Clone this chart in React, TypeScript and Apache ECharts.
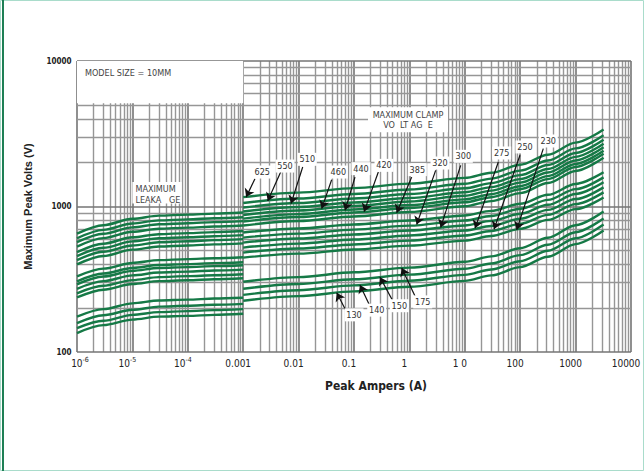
import React, { useEffect, useRef } from "react";
import * as echarts from "echarts";

// ---------- data ----------
const leakCurrents = [1e-6, 3e-6, 1e-5, 3e-5, 1e-4, 3e-4, 1e-3];
const clampCurrents = [0.001, 0.01, 0.1, 1, 10, 30, 100, 316, 1000, 3200];

// leakage region, one row per curve (highest first), volts
const leakVolts = [
  [651, 744, 823, 865, 879, 894, 909],
  [605, 691, 764, 803, 816, 830, 844],
  [569, 650, 719, 755, 768, 781, 794],
  [530, 606, 670, 704, 716, 728, 740],
  [486, 555, 614, 645, 656, 667, 678],
  [456, 520, 576, 605, 615, 625, 636],
  [428, 489, 540, 568, 577, 587, 597],
  [400, 457, 505, 531, 540, 549, 558],
  [331, 374, 409, 428, 435, 441, 448],
  [306, 346, 378, 396, 402, 408, 414],
  [292, 330, 361, 378, 383, 389, 395],
  [272, 307, 336, 352, 357, 363, 368],
  [253, 285, 312, 327, 332, 337, 342],
  [237, 268, 293, 307, 311, 316, 321],
  [175, 197, 216, 226, 229, 233, 236],
  [158, 179, 195, 205, 208, 211, 214],
  [146, 164, 180, 188, 191, 194, 197],
  [135, 153, 167, 175, 177, 180, 183],
];

// clamp region, one row per curve (highest first), volts
const clampVolts = [
  [1159, 1245, 1337, 1436, 1572, 1705, 1934, 2269, 2749, 3387],
  [1057, 1135, 1220, 1310, 1433, 1555, 1764, 2070, 2507, 3089],
  [984, 1057, 1136, 1219, 1334, 1447, 1642, 1927, 2334, 2875],
  [924, 992, 1066, 1145, 1253, 1359, 1542, 1809, 2192, 2700],
  [874, 939, 1009, 1083, 1185, 1286, 1459, 1711, 2073, 2554],
  [826, 887, 953, 1023, 1120, 1215, 1379, 1617, 1959, 2414],
  [788, 846, 909, 976, 1069, 1159, 1315, 1543, 1869, 2303],
  [740, 795, 854, 917, 1003, 1089, 1235, 1449, 1755, 2162],
  [662, 706, 752, 801, 868, 933, 1044, 1203, 1427, 1717],
  [611, 651, 694, 739, 801, 861, 964, 1110, 1317, 1585],
  [565, 602, 642, 684, 741, 796, 891, 1027, 1218, 1466],
  [522, 556, 593, 632, 684, 735, 823, 948, 1125, 1354],
  [482, 514, 548, 583, 632, 679, 760, 876, 1039, 1250],
  [445, 474, 506, 538, 583, 627, 702, 809, 959, 1154],
  [304, 327, 353, 380, 417, 454, 517, 610, 744, 924],
  [272, 293, 316, 340, 373, 406, 463, 546, 666, 827],
  [247, 266, 287, 309, 339, 369, 420, 496, 605, 751],
  [225, 242, 261, 281, 308, 336, 383, 452, 551, 684],
];

// arrow annotations
const arrowLabels = ["625", "550", "510", "460", "440", "420", "385", "320", "300", "275", "250", "230", "175", "150", "140", "130"];
const arrowFromA = [0.00163, 0.00475, 0.01186, 0.0395, 0.1042, 0.275, 1.1, 2.98, 8.43, 40.3, 99, 261, 1.26, 0.5, 0.189, 0.0718];
const arrowFromV = [1553, 1725, 1867, 1528, 1592, 1725, 1592, 1771, 1918, 2022, 2248, 2500, 243, 225, 211, 192];
const arrowToA = [0.00113, 0.00277, 0.0073, 0.0261, 0.0689, 0.152, 0.59, 1.355, 3.67, 15.3, 33.7, 86.5, 0.726, 0.294, 0.128, 0.0488];
const arrowToV = [1160, 1091, 1047, 967, 942, 922, 905, 752, 718, 708, 697, 692, 378, 327, 289, 255];
const labelA = [0.00221, 0.00569, 0.01436, 0.0521, 0.1336, 0.348, 1.39, 3.57, 9.4, 46.3, 122, 321, 1.74, 0.658, 0.257, 0.1];
const labelV = [1725, 1897, 2110, 1725, 1820, 1918, 1791, 1990, 2213, 2332, 2565, 2820, 221, 208, 194, 180];

// axes
const xTickValues = [1e-6, 1e-5, 1e-4, 1e-3, 0.01, 0.1, 1, 10, 100, 1000, 10000];
const xTickLabels = ["10^-6", "10^-5", "10^-4", "0.001", "0.01", "0.1", "1", "1 0", "100", "1000", "10000"];
const yTickValues = [100, 1000, 10000];
const yTickLabels = ["100", "1000", "10000"];
const minorSteps = [2, 3, 4, 5, 6, 7, 8, 9];

const X_MIN = 1e-6, X_MAX = 1e4, Y_MIN = 100, Y_MAX = 10000;
const FONT = "'Liberation Sans Narrow', 'DejaVu Sans Condensed', 'Liberation Sans', sans-serif";
const GREEN = "#157946";

function buildOption(): any {
  const minorStyle = { color: "#969696", width: 1.4, type: "solid" };
  const majorStyle = { color: "#747474", width: 1.6, type: "solid" };
  const gridLines: any[] = [];
  xTickValues.forEach((d, i) => {
    gridLines.push([{ coord: [d, Y_MIN], lineStyle: majorStyle }, { coord: [d, Y_MAX] }]);
    if (i < xTickValues.length - 1) {
      minorSteps.forEach((m) =>
        gridLines.push([{ coord: [d * m, Y_MIN], lineStyle: minorStyle }, { coord: [d * m, Y_MAX] }])
      );
    }
  });
  yTickValues.forEach((d, i) => {
    gridLines.push([{ coord: [X_MIN, d], lineStyle: majorStyle }, { coord: [X_MAX, d] }]);
    if (i < yTickValues.length - 1) {
      minorSteps.forEach((m) =>
        gridLines.push([{ coord: [X_MIN, d * m], lineStyle: minorStyle }, { coord: [X_MAX, d * m] }])
      );
    }
  });

  const tickPoints: any[] = [];
  xTickValues.forEach((v, i) => {
    const t = xTickLabels[i];
    const txt = t.indexOf("^") >= 0 ? `{b|${t.split("^")[0]}}{e|${t.split("^")[1]}}` : `{b|${t}}`;
    tickPoints.push({
      coord: [v, Y_MIN],
      label: {
        show: true,
        position: "bottom",
        distance: 4,
        offset: [i === 0 ? 3 : -5, 0],
        formatter: () => txt,
        rich: {
          b: { fontSize: 10, lineHeight: 14, fontFamily: FONT, color: "#222" },
          e: { fontSize: 7, lineHeight: 8, verticalAlign: "top", fontFamily: FONT, color: "#222" },
        },
      },
    });
  });
  yTickValues.forEach((v, i) => {
    tickPoints.push({
      coord: [X_MIN, v],
      label: {
        show: true,
        position: "left",
        distance: 5,
        formatter: () => yTickLabels[i],
        fontSize: 8,
        fontWeight: "bold",
        fontFamily: FONT,
        color: "#222",
      },
    });
  });

  const series: any[] = [];
  series.push({
    type: "line",
    data: [[X_MIN, Y_MIN]],
    showSymbol: false,
    silent: true,
    z: 1,
    lineStyle: { opacity: 0 },
    markLine: { silent: true, z: 1, symbol: "none", animation: false, label: { show: false }, data: gridLines },
    markPoint: {
      silent: true,
      z: 1,
      animation: false,
      symbol: "circle",
      symbolSize: 1,
      itemStyle: { color: "rgba(0,0,0,0)" },
      data: tickPoints,
    },
  });

  const boxLabel = { show: true, color: "#444", fontSize: 9, fontFamily: FONT };
  series.push({
    type: "line",
    data: [[X_MIN, Y_MIN]],
    showSymbol: false,
    silent: true,
    z: 2,
    lineStyle: { opacity: 0 },
    markArea: {
      silent: true,
      z: 2,
      animation: false,
      itemStyle: { color: "#ffffff" },
      data: [
        [
          { coord: [1e-6, 10000], label: { ...boxLabel, position: [8, 7], formatter: () => "MODEL SIZE = 10MM" } },
          { coord: [0.001, 5130] },
        ],
        [
          { coord: [1e-5, 1471], label: { ...boxLabel, position: [3, 1], lineHeight: 11, formatter: () => "MAXIMUM\nLEAKA   GE" } },
          { coord: [7.77e-5, 1049] },
        ],
        [
          { coord: [0.179, 4819], label: { ...boxLabel, position: "inside", lineHeight: 10, align: "center", formatter: () => "MAXIMUM CLAMP\nVO  LT AG  E" } },
          { coord: [4.97, 3237] },
        ],
      ],
    },
  });

  const curveStyle = { color: GREEN, width: 2.4 };
  leakVolts.forEach((vals) => {
    series.push({
      type: "line",
      data: leakCurrents.map((c, j) => [c, vals[j]]),
      smooth: 0.3,
      smoothMonotone: "x",
      symbol: "none",
      silent: true,
      z: 3,
      lineStyle: curveStyle,
    });
  });
  clampVolts.forEach((vals) => {
    series.push({
      type: "line",
      data: clampCurrents.map((c, j) => [c, vals[j]]),
      smooth: 0.3,
      smoothMonotone: "x",
      symbol: "none",
      silent: true,
      z: 3,
      lineStyle: curveStyle,
    });
  });

  series.push({
    type: "line",
    data: [[X_MIN, Y_MIN]],
    showSymbol: false,
    silent: true,
    z: 4,
    lineStyle: { opacity: 0 },
    markLine: {
      silent: true,
      z: 6,
      animation: false,
      symbol: ["none", "arrow"],
      symbolSize: 8,
      label: { show: false },
      lineStyle: { color: "#111", width: 1.2, type: "solid" },
      data: arrowLabels.map((_, i) => [
        { coord: [arrowFromA[i], arrowFromV[i]] },
        { coord: [arrowToA[i], arrowToV[i]] },
      ]),
    },
    markPoint: {
      silent: true,
      z: 7,
      animation: false,
      symbol: "rect",
      symbolSize: [19, 13],
      itemStyle: { color: "#ffffff" },
      label: { show: true, position: "inside", color: "#333", fontSize: 9, fontFamily: FONT, formatter: "{b}" },
      data: arrowLabels.map((name, i) => ({ name, coord: [labelA[i], labelV[i]] })),
    },
  });

  return {
    animation: false,
    backgroundColor: "#ffffff",
    grid: { left: 77, right: 13, top: 61, bottom: 119 },
    xAxis: {
      type: "log",
      logBase: 10,
      min: X_MIN,
      max: X_MAX,
      axisLine: { show: false },
      axisTick: { show: false },
      axisLabel: { show: false },
      splitLine: { show: false },
      name: "Peak Ampers (A)",
      nameLocation: "middle",
      nameGap: 28,
      nameTextStyle: { fontFamily: FONT, fontWeight: "bold", fontSize: 12, color: "#222", padding: [0, 0, 0, 44] },
    },
    yAxis: {
      type: "log",
      logBase: 10,
      min: Y_MIN,
      max: Y_MAX,
      axisLine: { show: false },
      axisTick: { show: false },
      axisLabel: { show: false },
      splitLine: { show: false },
      name: "Maximum Peak Volts (V)",
      nameLocation: "middle",
      nameGap: 44,
      nameTextStyle: { fontFamily: "'Liberation Sans', Arial, sans-serif", fontWeight: "bold", fontSize: 11, color: "#222" },
    },
    graphic: [
      { type: "rect", silent: true, z: 100, shape: { x: 0.5, y: 0.5, width: 643, height: 470 }, style: { fill: "none", stroke: "#a9dccb", lineWidth: 1 } },
      { type: "line", silent: true, z: 100, shape: { x1: 3, y1: 0, x2: 3, y2: 471 }, style: { stroke: "#1e7f55", lineWidth: 2 } },
    ],
    series,
  };
}

export default function App() {
  const ref = useRef<HTMLDivElement>(null);
  useEffect(() => {
    document.body.style.margin = "0";
    const chart = echarts.init(ref.current as HTMLDivElement, null, { renderer: "svg" });
    chart.setOption(buildOption());
    return () => chart.dispose();
  }, []);
  return <div ref={ref} style={{ width: 644, height: 471, background: "#fff" }} />;
}
